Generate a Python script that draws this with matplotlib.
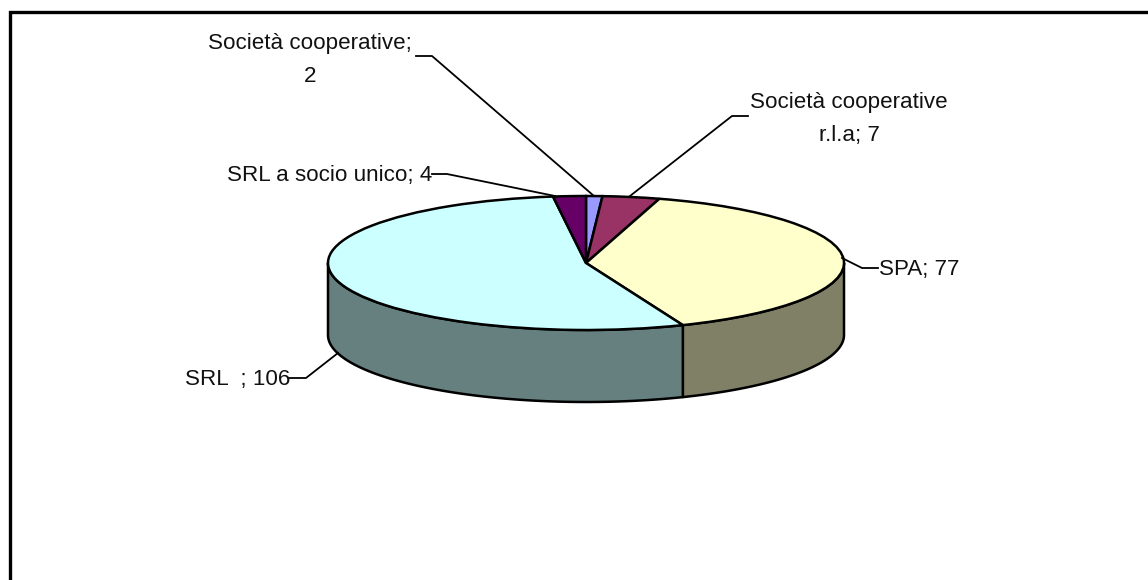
import numpy as np
import matplotlib
matplotlib.use("Agg")
import matplotlib.pyplot as plt

categories = ["Società cooperative", "Società cooperative r.l.a", "SPA", "SRL", "SRL a socio unico"]
values = [2, 7, 77, 106, 4]
top_colors = ["#9999FF", "#993366", "#FFFFCC", "#CCFFFF", "#660066"]
side_colors = ["#666699", "#662244", "#808066", "#668080", "#330033"]
label_texts = ["Società cooperative;\n2", "Società cooperative\nr.l.a; 7", "SPA; 77", "SRL  ; 106", "SRL a socio unico; 4"]

W, H = 1148, 580
CX, CY, RX, RY, DEPTH = 586, 263, 258, 67, 72
plt.rcParams["font.family"] = ["Liberation Sans"]

fig = plt.figure(figsize=(W / 100, H / 100), dpi=100, facecolor="white")
ax = fig.add_axes([0, 0, 1, 1])

wedges, _ = ax.pie(values, colors=top_colors, startangle=90, counterclock=False,
                   wedgeprops=dict(edgecolor="black", linewidth=1.8, zorder=5))
ax.set_aspect("auto")
ax.set_xlim(-CX / RX, (W - CX) / RX)
ax.set_ylim((CY - H) / RY, CY / RY)
ax.axis("off")
depth = DEPTH / RY

# side wall: front half of each slice, from the same values
edges = 90 - 360 * np.concatenate([[0], np.cumsum(values)]) / np.sum(values)
for a0, a1, col in zip(edges[:-1], edges[1:], side_colors):
    lo, hi = max(a1, -180), min(a0, 0)
    if hi <= lo:
        continue
    t = np.radians(np.linspace(hi, lo, 200))
    x, y = np.cos(t), np.sin(t)
    ax.fill(np.r_[x, x[::-1]], np.r_[y, y[::-1] - depth], facecolor=col,
            edgecolor="black", linewidth=1.8, zorder=3, joinstyle="round")

def px(x, y):
    return (x - CX) / RX, (CY - y) / RY

# frame: open on the right and cut off at the bottom
ax.plot(*zip(px(10, 582), px(10, 12), px(1150, 12)), color="black", lw=2.4, zorder=6,
        solid_joinstyle="miter", clip_on=True)

leaders = [
    [(416, 56), (432, 56), (594, 196)],
    [(748, 116), (732, 116), (630, 196)],
    [(842, 258), (862, 268), (878, 268)],
    [(338, 353), (306, 378), (288, 378)],
    [(432, 174), (447, 174), (555, 196)],
]
for pts in leaders:
    ax.plot(*zip(*[px(*p) for p in pts]), color="black", lw=1.3, zorder=7)

text_pos = [(310, 60, "center"), (849, 119, "center"), (879, 270, "left"), (185, 380, "left"), (227, 176, "left")]
for txt, (tx, ty, ha) in zip(label_texts, text_pos):
    xd, yd = px(tx, ty)
    ax.text(xd, yd, txt, ha=ha, va="center", fontsize=16.1, color="#111111",
            linespacing=1.75, zorder=8)

fig.savefig("out.png", dpi=100, facecolor="white")
